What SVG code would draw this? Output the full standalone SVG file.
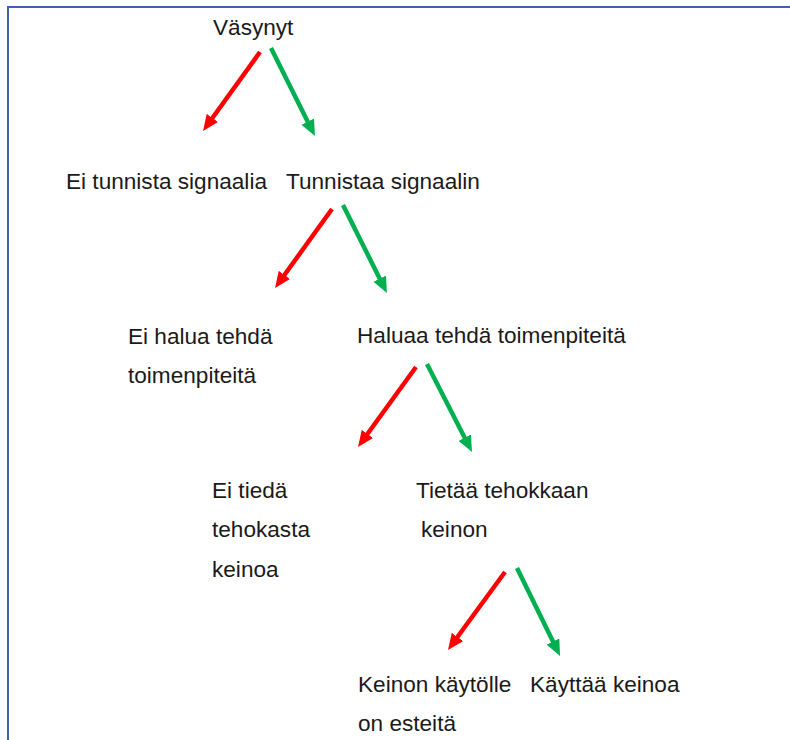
<svg xmlns="http://www.w3.org/2000/svg" width="790" height="740" viewBox="0 0 790 740">
<style>
  .t { font-family: "Liberation Sans", Arial, sans-serif; font-size: 22.6px; fill: #1a1a1a; }
  .r { stroke: #FF0000; stroke-width: 4.5; fill: none; marker-end: url(#hr); }
  .g { stroke: #00B050; stroke-width: 4.5; fill: none; marker-end: url(#hg); }
</style>
<defs>
  <marker id="hr" viewBox="0 0 16 14" refX="5" refY="7" markerWidth="16" markerHeight="14" markerUnits="userSpaceOnUse" orient="auto">
    <path d="M0,0 L16,7 L0,14 z" fill="#FF0000"/>
  </marker>
  <marker id="hg" viewBox="0 0 16 14" refX="5" refY="7" markerWidth="16" markerHeight="14" markerUnits="userSpaceOnUse" orient="auto">
    <path d="M0,0 L16,7 L0,14 z" fill="#00B050"/>
  </marker>
</defs>
<rect width="790" height="740" fill="#ffffff"/>
<g id="frame">
  <line x1="8" y1="7" x2="790" y2="7" stroke="#3F62AA" stroke-width="2"/>
  <line x1="8" y1="6" x2="8" y2="740" stroke="#3F62AA" stroke-width="2"/>
</g>
<g id="connectors">
  <line class="r" x1="260" y1="52" x2="209.5" y2="122"/>
  <line class="g" x1="271" y1="48" x2="310" y2="126.2"/>
  <line class="r" x1="332" y1="209" x2="281.5" y2="279"/>
  <line class="g" x1="343" y1="205" x2="382" y2="283.2"/>
  <line class="r" x1="416" y1="367" x2="364.5" y2="438"/>
  <line class="g" x1="427" y1="364" x2="467" y2="442.2"/>
  <line class="r" x1="505" y1="572" x2="454.5" y2="641"/>
  <line class="g" x1="517" y1="568" x2="555.2" y2="646.1"/>
</g>
<g id="n-vasynyt"><text class="t" x="213" y="35">Väsynyt</text></g>
<g id="n-ei-tunnista"><text class="t" x="66" y="189">Ei tunnista signaalia</text></g>
<g id="n-tunnistaa"><text class="t" x="286" y="189">Tunnistaa signaalin</text></g>
<g id="n-ei-halua"><text class="t" x="128" y="344">Ei halua tehdä</text><text class="t" x="128" y="383">toimenpiteitä</text></g>
<g id="n-haluaa"><text class="t" x="357" y="343">Haluaa tehdä toimenpiteitä</text></g>
<g id="n-ei-tieda"><text class="t" x="212" y="498">Ei tiedä</text><text class="t" x="212" y="537">tehokasta</text><text class="t" x="212" y="577">keinoa</text></g>
<g id="n-tietaa"><text class="t" x="416" y="498">Tietää tehokkaan</text><text class="t" x="421" y="537">keinon</text></g>
<g id="n-esteita"><text class="t" x="358" y="692">Keinon käytölle</text><text class="t" x="358" y="731">on esteitä</text></g>
<g id="n-kayttaa"><text class="t" x="530" y="692">Käyttää keinoa</text></g>
</svg>
